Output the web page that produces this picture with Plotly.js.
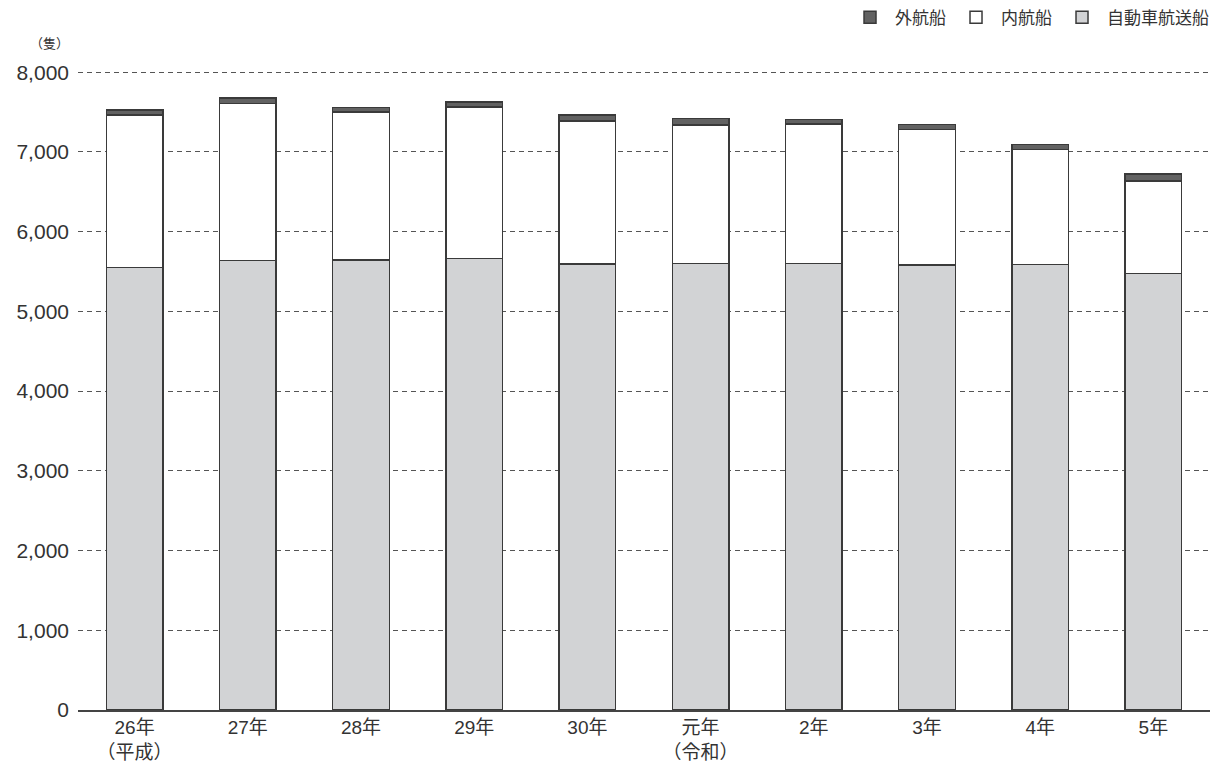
<!DOCTYPE html>
<html>
<head>
<meta charset="utf-8">
<script src="https://cdn.plot.ly/plotly-3.0.1.min.js"></script>
<style>html,body{margin:0;padding:0;background:#fff;}#chart{width:1230px;height:774px;}</style>
</head>
<body>
<div id="chart"></div>
<script>
const categories = ["26年<br>（平成）", "27年", "28年", "29年", "30年", "元年<br>（令和）", "2年", "3年", "4年", "5年"];
const carFerry = [5550, 5635, 5645, 5665, 5595, 5600, 5600, 5580, 5590, 5475];
const domestic = [1910, 1972, 1855, 1900, 1793, 1740, 1748, 1701, 1442, 1162];
const ocean = [63, 71, 59, 63, 75, 79, 58, 63, 63, 88];
const yTicks = [0, 1000, 2000, 3000, 4000, 5000, 6000, 7000, 8000];

const FONT = 'Liberation Sans, "Noto Sans CJK JP", sans-serif';
const lineStyle = {color: '#3a3a3a', width: 1.5};

const traces = [
  {type: 'bar', name: '自動車航送船', x: categories, y: carFerry,
   marker: {color: '#d2d3d5', line: lineStyle}, hoverinfo: 'y+name'},
  {type: 'bar', name: '内航船', x: categories, y: domestic,
   marker: {color: '#ffffff', line: lineStyle}, hoverinfo: 'y+name'},
  {type: 'bar', name: '外航船', x: categories, y: ocean,
   marker: {color: '#626262', line: lineStyle}, hoverinfo: 'y+name'}
];

const layout = {
  width: 1230, height: 774,
  margin: {l: 78, r: 20, t: 69, b: 64, autoexpand: false},
  paper_bgcolor: '#ffffff', plot_bgcolor: '#ffffff',
  barmode: 'stack', bargap: 0.5,
  font: {family: FONT, color: '#333333', size: 19},
  showlegend: true,
  legend: {orientation: 'h', x: 0.987, xanchor: 'right', xref: 'container',
           y: 0.977, yanchor: 'middle', yref: 'container',
           traceorder: 'reversed', font: {size: 17, color: '#333'}, itemwidth: 40},
  xaxis: {type: 'category', showgrid: false, showline: true, linecolor: '#444', linewidth: 1.5,
          ticks: '', tickfont: {size: 19, color: '#333'}, fixedrange: true},
  yaxis: {range: [0, 8040], tickvals: yTicks, tickformat: ',', showgrid: true,
          gridcolor: '#555', griddash: '5px,4px', gridwidth: 1, zeroline: false,
          showline: false, ticks: '', ticklabelstandoff: 8,
          tickfont: {size: 21, color: '#333'}, fixedrange: true},
  annotations: [{text: '（隻）', xref: 'paper', yref: 'paper', x: -0.025, y: 1.04,
                 xanchor: 'center', yanchor: 'middle', showarrow: false,
                 font: {size: 13, color: '#333'}}]
};

Plotly.newPlot('chart', traces, layout, {displayModeBar: false, staticPlot: true});
</script>
</body>
</html>
